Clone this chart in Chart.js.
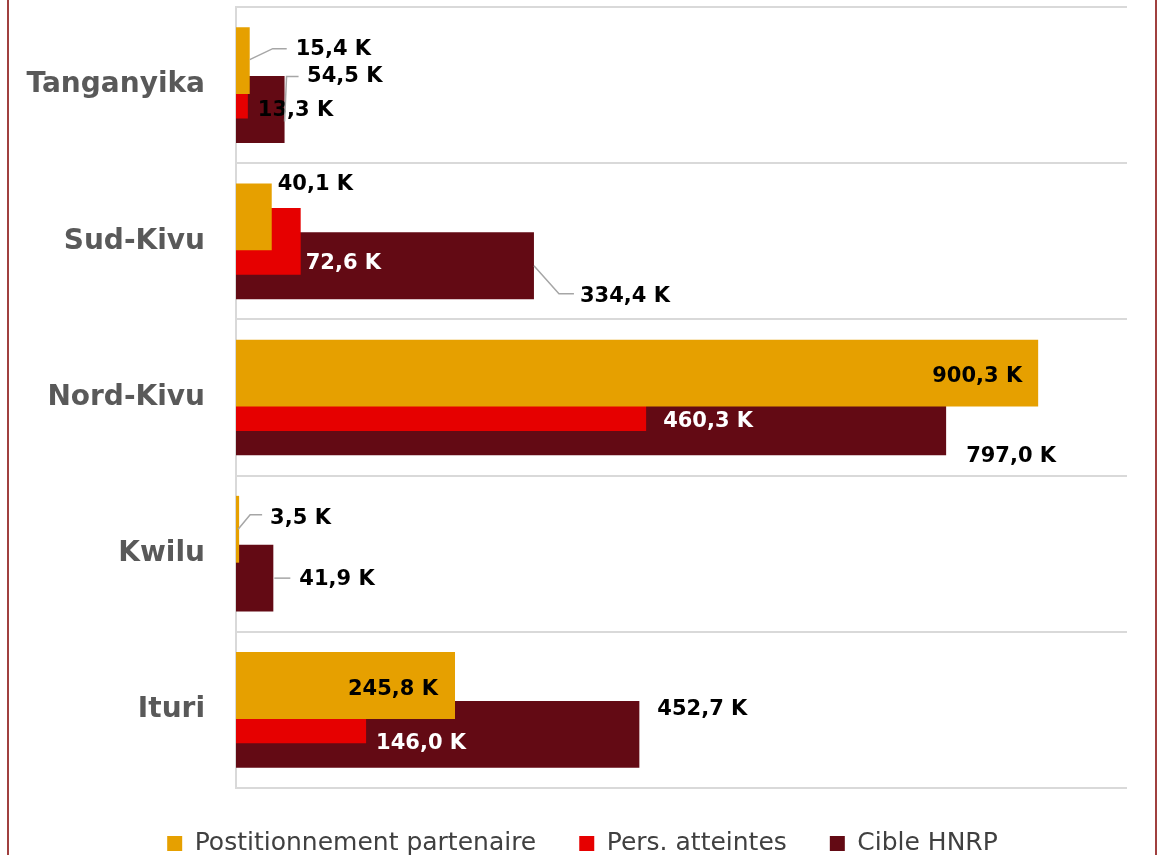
<!DOCTYPE html>
<html>
<head>
<meta charset="utf-8">
<script src="https://cdn.jsdelivr.net/npm/chart.js@4"></script>
<style>
html, body { margin: 0; padding: 0; overflow: hidden; background: #fff; }
#frame { position: relative; width: 1165px; height: 855px; overflow: hidden; }
#wrap { position: absolute; left: 0; top: 0; width: 1165px; height: 866px; }
.edge { position: absolute; top: 0; width: 2px; height: 855px; background: #A0403F; }
</style>
</head>
<body>
<div id="frame">
  <div id="wrap"><canvas id="myChart"></canvas></div>
  <div class="edge" style="left:7px"></div>
  <div class="edge" style="left:1155px"></div>
</div>
<script>
const provinces = ['Tanganyika', 'Sud-Kivu', 'Nord-Kivu', 'Kwilu', 'Ituri'];
const positionnement = [15.4, 40.1, 900.3, 3.5, 245.8];
const atteintes = [13.3, 72.6, 460.3, null, 146.0];
const cible = [54.5, 334.4, 797.0, 41.9, 452.7];
const seriesNames = ['Postitionnement partenaire', 'Pers. atteintes', 'Cible HNRP'];
const seriesColors = ['#E6A000', '#E60000', '#630A14'];

// where each value label sits, relative to the end of its bar
const labelSpots = [
    [
        { dx: 46, dy: -11, leader: [[0, -1], [23, -12], [37, -12]] },
        { dx: 6, dy: -32 },
        { dx: -16, dy: 3.5, align: 'right' },
        { dx: 31, dy: -10.5, leader: [[-1, 0], [11, -14.5], [23, -14.5]] },
        { dx: -17, dy: 4, align: 'right' }
    ],
    [
        { dx: 10, dy: 25.5 },
        { dx: 5, dy: 22.5, color: '#fff' },
        { dx: 17, dy: 24.5, color: '#fff' },
        null,
        { dx: 10, dy: 34, color: '#fff' }
    ],
    [
        { dx: 22.5, dy: -32.5, leader: [[14, -33], [2, -33], [0, 12]] },
        { dx: 46, dy: 30.5, leader: [[0, 0], [25, 28], [40, 28]] },
        { dx: 20, dy: 35 },
        { dx: 26, dy: 1.5, leader: [[1, 0], [17, 0]] },
        { dx: 18, dy: -24.5 }
    ]
];

const fmt = v => v.toFixed(1).replace('.', ',') + ' K';

const valueLabels = {
    id: 'valueLabels',
    afterDatasetsDraw(chart) {
        const ctx = chart.ctx;
        ctx.save();
        ctx.font = 'bold 21px "DejaVu Sans"';
        ctx.textBaseline = 'middle';
        chart.data.datasets.forEach((ds, di) => {
            const meta = chart.getDatasetMeta(di);
            meta.data.forEach((bar, i) => {
                const v = ds.data[i];
                const spot = labelSpots[di][i];
                if (v == null || !spot) return;
                if (spot.leader) {
                    ctx.strokeStyle = '#A6A6A6';
                    ctx.lineWidth = 1.5;
                    ctx.beginPath();
                    spot.leader.forEach((p, k) => {
                        if (k === 0) ctx.moveTo(bar.x + p[0], bar.y + p[1]);
                        else ctx.lineTo(bar.x + p[0], bar.y + p[1]);
                    });
                    ctx.stroke();
                }
                ctx.fillStyle = spot.color || '#000';
                ctx.textAlign = spot.align || 'left';
                ctx.fillText(fmt(v), bar.x + spot.dx, bar.y + spot.dy);
            });
        });
        ctx.restore();
    }
};

const seriesValues = [positionnement, atteintes, cible];

new Chart(document.getElementById('myChart').getContext('2d'), {
    type: 'bar',
    data: {
        labels: provinces,
        datasets: seriesNames.map((name, i) => ({
            label: name,
            data: seriesValues[i],
            backgroundColor: seriesColors[i],
            categoryPercentage: 0.4693,
            barPercentage: 2.735
        }))
    },
    options: {
        indexAxis: 'y',
        responsive: true,
        maintainAspectRatio: false,
        animation: false,
        layout: { padding: { top: 7, right: 0, left: 0, bottom: 0 } },
        scales: {
            x: { min: 0, max: 1000, display: false },
            y: {
                afterFit: scale => {
                    scale.width = 236;
                    scale.paddingTop = 0;
                    scale.paddingBottom = 0;
                },
                grid: { color: '#D9D9D9', lineWidth: 2, drawTicks: false },
                border: { color: '#D9D9D9', width: 2 },
                ticks: {
                    padding: 31,
                    color: '#595959',
                    font: { family: 'DejaVu Sans', size: 28, weight: 'bold' }
                }
            },
            // empty margin on the right so the legend stays centred on the page
            yMargin: {
                type: 'category',
                axis: 'y',
                position: 'right',
                grid: { display: false },
                border: { display: false },
                ticks: { display: false },
                afterFit: scale => {
                    scale.width = 38;
                    scale.paddingTop = 0;
                    scale.paddingBottom = 0;
                }
            }
        },
        plugins: {
            tooltip: { enabled: false },
            legend: {
                position: 'bottom',
                labels: {
                    boxWidth: 15,
                    boxHeight: 15,
                    padding: 43,
                    color: '#404040',
                    font: { family: 'DejaVu Sans', size: 25 }
                }
            }
        }
    },
    plugins: [valueLabels]
});
</script>
</body>
</html>
